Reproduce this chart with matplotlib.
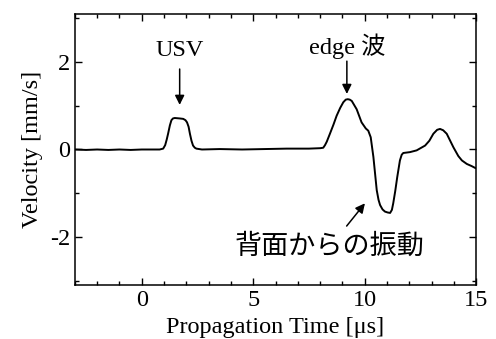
import matplotlib
matplotlib.use("Agg")
import matplotlib.pyplot as plt
from matplotlib.ticker import MultipleLocator

plt.rcParams['font.family'] = ['Liberation Serif', 'Noto Sans CJK JP']
plt.rcParams['axes.unicode_minus'] = False

# measured waveform (time in us, velocity in mm/s)
time_us = [-3.0, -2.5, -2.0, -1.5, -1.0, -0.5, 0.0, 0.5, 0.8, 0.96,
           1.05, 1.12, 1.18, 1.26, 1.33, 1.4, 1.48, 1.7, 1.86, 1.96,
           2.03, 2.1, 2.16, 2.23, 2.3, 2.38, 2.45, 2.7, 3.5, 4.5,
           5.5, 6.5, 7.5, 8.0, 8.14, 8.22, 8.3, 8.44, 8.6, 8.74,
           8.9, 9.04, 9.15, 9.24, 9.33, 9.42, 9.64, 9.86, 10.05, 10.16,
           10.27, 10.39, 10.54, 10.62, 10.69, 10.8, 10.91, 11.03, 11.14, 11.22,
           11.28, 11.37, 11.46, 11.58, 11.66, 11.73, 12.03, 12.33, 12.71, 12.9,
           13.08, 13.25, 13.38, 13.52, 13.68, 13.98, 14.2, 14.36, 14.58, 14.8,
           14.95, 15.0]
velocity = [0.0, -0.01, 0.0, -0.01, 0.0, -0.01, 0.0, 0.0, 0.0, 0.02,
            0.1, 0.23, 0.36, 0.55, 0.67, 0.71, 0.72, 0.71, 0.70, 0.67,
            0.62, 0.52, 0.36, 0.2, 0.09, 0.04, 0.02, 0.0, 0.01, 0.0,
            0.01, 0.02, 0.02, 0.03, 0.04, 0.1, 0.18, 0.36, 0.57, 0.77,
            0.95, 1.08, 1.14, 1.15, 1.14, 1.11, 0.92, 0.62, 0.48, 0.43,
            0.28, -0.17, -0.93, -1.15, -1.27, -1.37, -1.42, -1.44, -1.45, -1.38,
            -1.23, -0.95, -0.63, -0.25, -0.12, -0.08, -0.06, -0.02, 0.09, 0.2,
            0.36, 0.45, 0.47, 0.44, 0.36, 0.05, -0.15, -0.25, -0.33, -0.38,
            -0.42, -0.43]

fig = plt.figure(figsize=(4.96, 3.39), dpi=100)
ax = fig.add_axes([0.151, 0.159, 0.809, 0.800])

ax.plot(time_us, velocity, color='black', linewidth=1.4)

ax.set_xlim(-3, 15)
ax.set_ylim(-3.1, 3.1)
ax.xaxis.set_major_locator(MultipleLocator(5))
ax.xaxis.set_minor_locator(MultipleLocator(1))
ax.yaxis.set_major_locator(MultipleLocator(2))
ax.yaxis.set_minor_locator(MultipleLocator(1))
ax.tick_params(which='both', direction='in', top=True, right=True,
               labelsize=17.5, width=1.0)
ax.tick_params(which='major', length=5)
ax.tick_params(which='minor', length=3)
for sp in ax.spines.values():
    sp.set_linewidth(1.1)

ax.set_xlabel('Propagation Time [μs]', fontsize=17.5, labelpad=4)
ax.set_ylabel('Velocity [mm/s]', fontsize=17.5, labelpad=5)

arrow = dict(arrowstyle='-|>', color='black', lw=1.1, mutation_scale=14,
             shrinkA=0, shrinkB=0)
ax.text(1.7, 2.27, 'USV', ha='center', va='center', fontsize=17.5)
ax.annotate('', xy=(1.7, 1.02), xytext=(1.7, 1.84), arrowprops=arrow)

ax.text(9.2, 2.36, 'edge 波', ha='center', va='center', fontsize=17.5)
ax.annotate('', xy=(9.2, 1.27), xytext=(9.2, 2.02), arrowprops=arrow)

ax.text(8.44, -2.22, '背面からの振動', ha='center', va='center', fontsize=19.5,
        family=['Noto Sans CJK JP'])
ax.annotate('', xy=(10.01, -1.23), xytext=(9.19, -1.75), arrowprops=arrow)

fig.savefig('out.png', dpi=100)
